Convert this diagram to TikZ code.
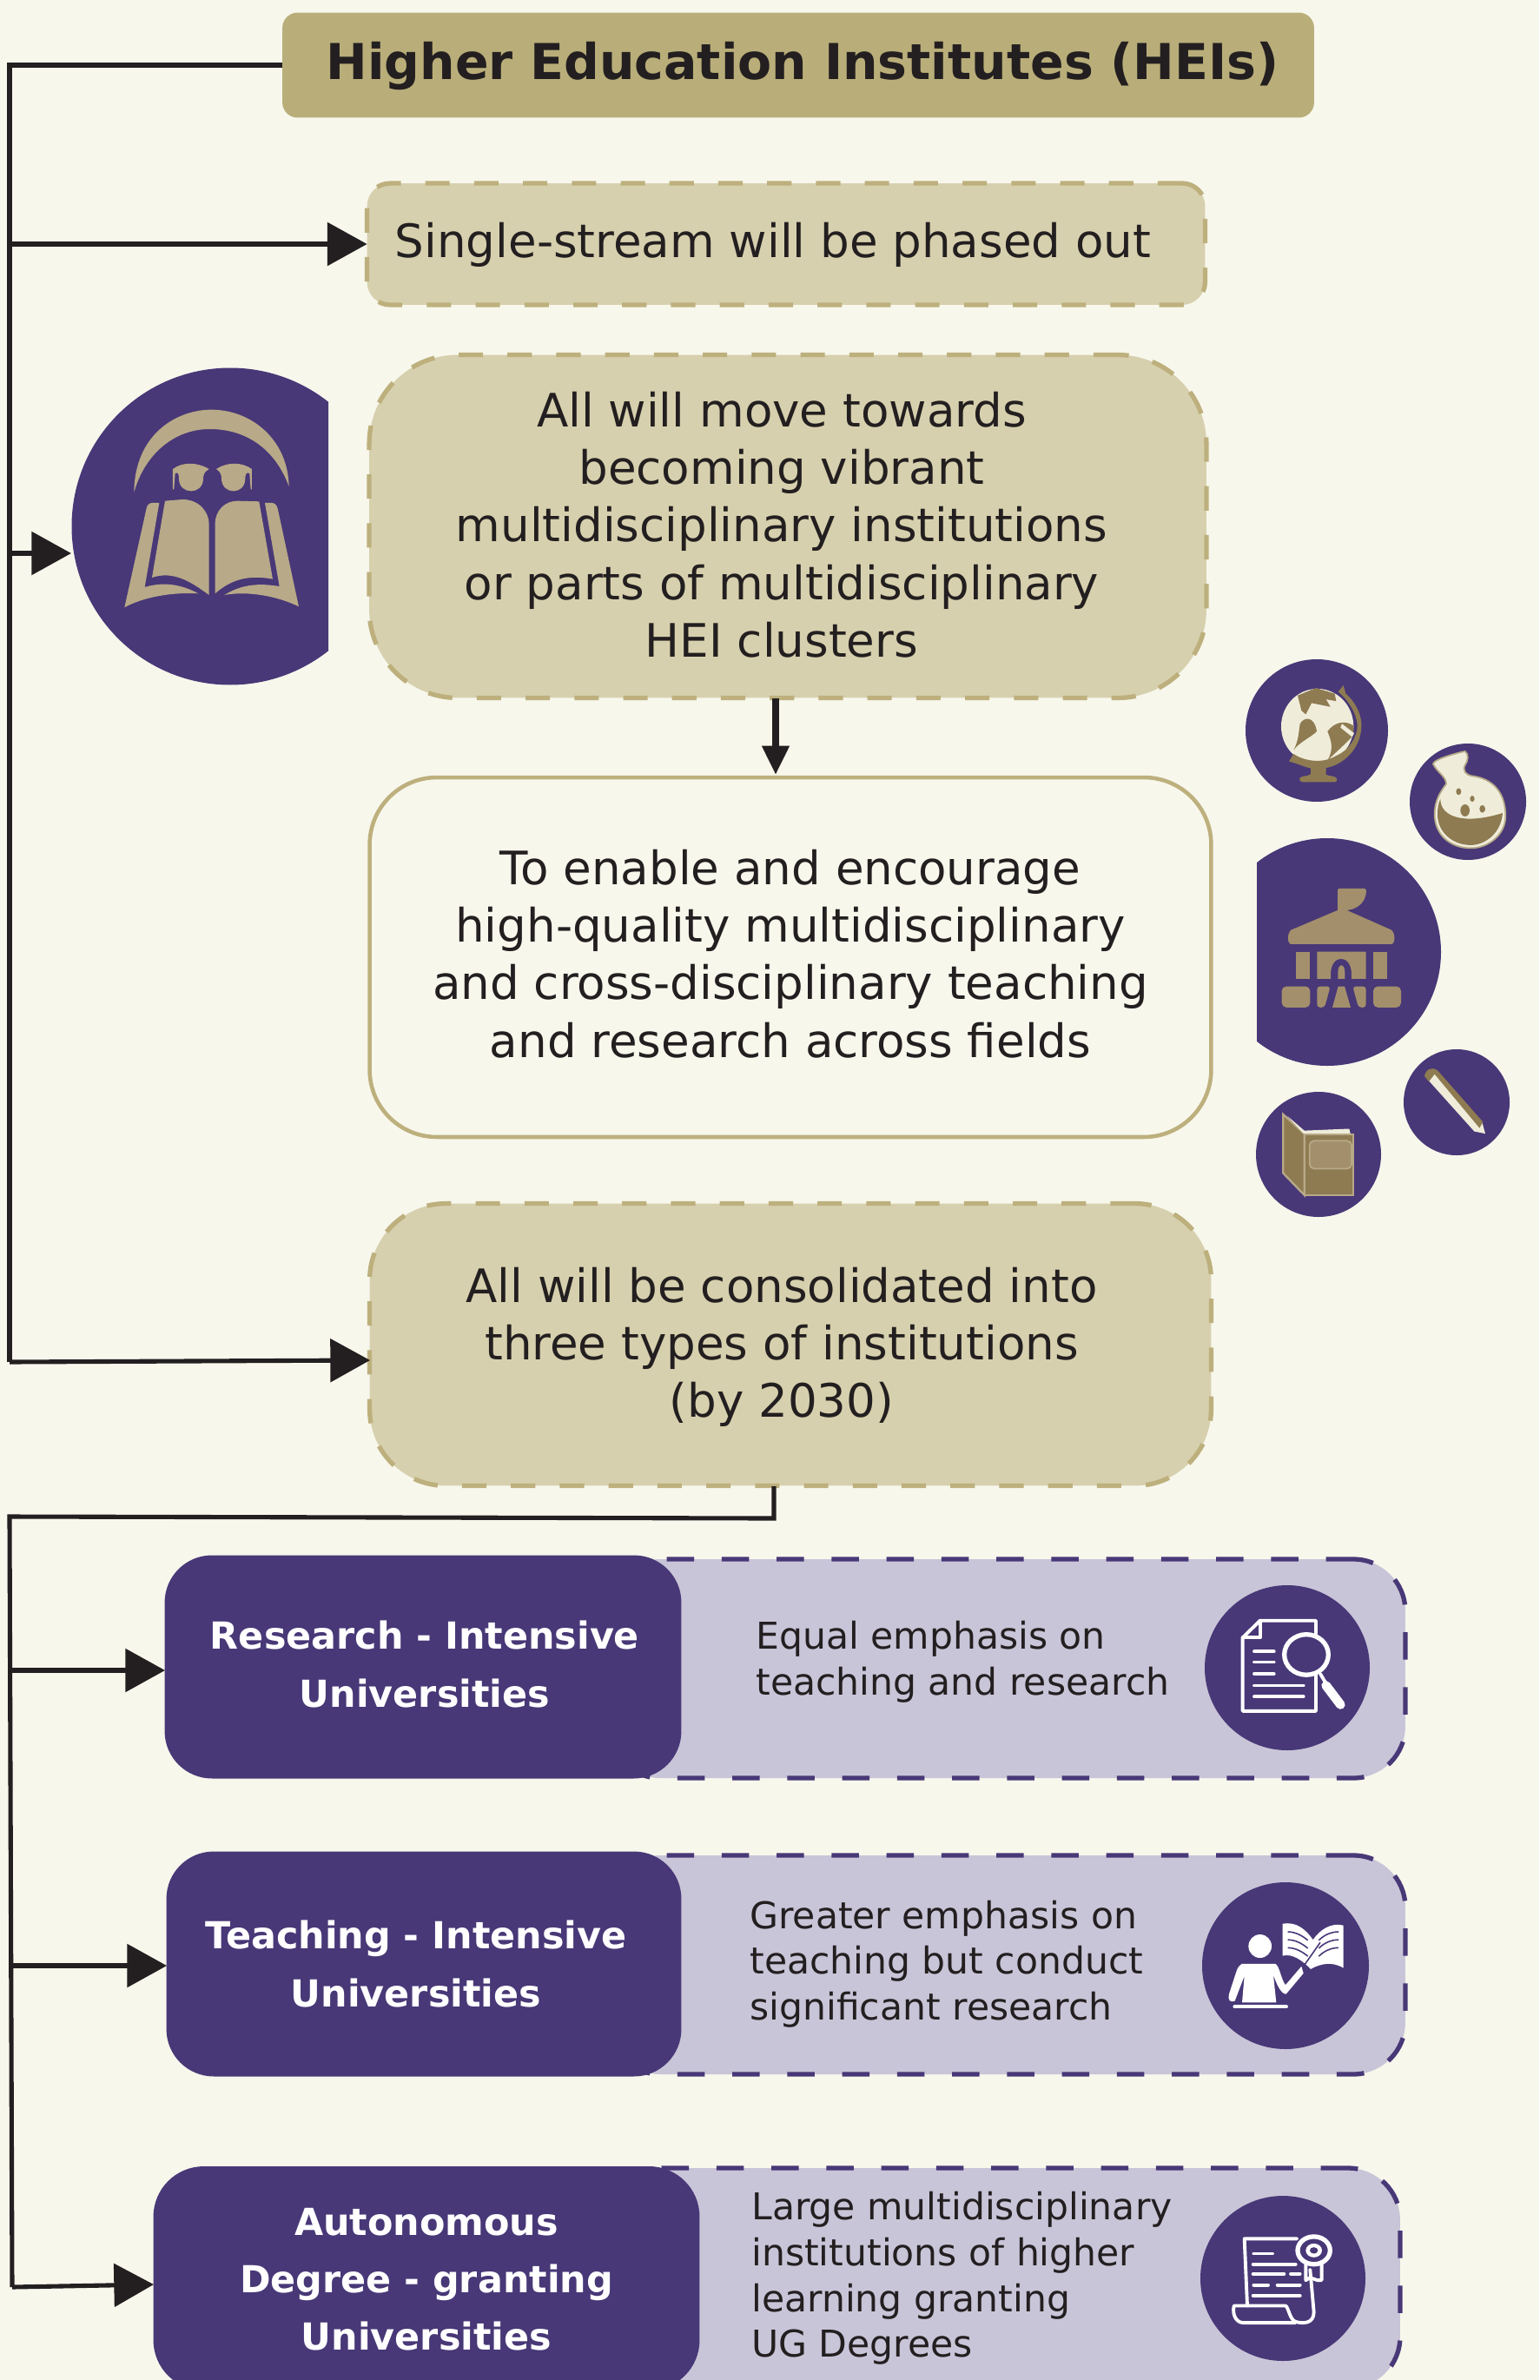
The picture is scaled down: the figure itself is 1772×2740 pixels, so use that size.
\documentclass[tikz,border=0pt]{standalone}
\usepackage{fontspec}
\setmainfont{DejaVu Sans}
\usetikzlibrary{arrows.meta}
\definecolor{bgc}{HTML}{F7F7EC}
\definecolor{titlec}{HTML}{B9AE79}
\definecolor{lightc}{HTML}{D7D0AE}
\definecolor{edgec}{HTML}{BDB07D}
\definecolor{purp}{HTML}{483877}
\definecolor{lilac}{HTML}{C9C5D8}
\definecolor{inkc}{HTML}{231F20}
\definecolor{tanc}{HTML}{B8A988}
\definecolor{brownc}{HTML}{8F7B52}
\definecolor{creamc}{HTML}{EFEDDA}
\definecolor{bldc}{HTML}{A38F6C}
\def\U{0.56906pt}
\tikzset{
 panel/.style={inner sep=0pt,outer sep=0pt,rectangle},
 titlebox/.style={panel,fill=titlec,rounded corners=10pt},
 tanbox/.style={panel,fill=lightc,draw=edgec,line width=3pt,dash pattern=on 16pt off 16pt},
 whitebox/.style={panel,fill=bgc,draw=edgec,line width=2.6pt,rounded corners=44pt},
 lilacbox/.style={panel,fill=lilac,draw=purp,line width=3pt,dash pattern=on 18pt off 18pt,rounded corners=34pt},
 purpbox/.style={panel,fill=purp,rounded corners=31pt},
 maintext/.style={inner sep=0pt,text=inkc,align=center,font=\fontsize{30.2}{37.7}\selectfont},
 sidetext/.style={inner sep=0pt,text=inkc,align=left,font=\fontsize{24.2}{30}\selectfont},
 boldtext/.style={inner sep=0pt,text=white,align=center,font=\fontsize{24.4}{37.7}\selectfont\bfseries},
 wire/.style={draw=inkc,line width=2.9pt},
 arr/.style={wire,-{Triangle[length=26pt,width=28pt]}},
 smallarr/.style={wire,line width=4.4pt,-{Triangle[length=19pt,width=17pt]}},
 disc/.style={fill=purp},
 whiteline/.style={draw=white,line width=2.2pt,line cap=round,line join=round},
}
\begin{document}
\begin{tikzpicture}[x=0.02cm,y=-0.02cm]
\useasboundingbox (0,0) rectangle (1772,2740);
\clip (0,0) rectangle (1772,2740);
\fill[bgc] (0,0) rectangle (1772,2740);

% boxes
\node[titlebox,minimum width=1188*\U,minimum height=121*\U] (hei) at (919,75) {};
\node[tanbox,rounded corners=15pt,minimum width=965*\U,minimum height=140*\U] (single) at (905,281) {};
\node[tanbox,rounded corners=58pt,minimum width=964*\U,minimum height=395*\U] (multi) at (907,606) {};
\node[whitebox,minimum width=969*\U,minimum height=414*\U] (enable) at (910,1102) {};
\node[tanbox,rounded corners=50pt,minimum width=969*\U,minimum height=325*\U] (three) at (910,1548) {};

\node[lilacbox,minimum width=918*\U,minimum height=252*\U] (rl) at (1159,1921) {};
\node[purpbox,minimum width=595*\U,minimum height=257*\U] (rp) at (487,1919) {};
\node[lilacbox,minimum width=918*\U,minimum height=252*\U] (tl) at (1159,2262) {};
\node[purpbox,minimum width=593*\U,minimum height=259*\U] (tp) at (488,2261) {};
\node[lilacbox,minimum width=910*\U,minimum height=254*\U] (al) at (1157,2623) {};
\node[purpbox,rounded corners=33pt,minimum width=629*\U,minimum height=258*\U] (ap) at (491,2623) {};

% texts
\node[maintext,font=\fontsize{32.4}{37.7}\selectfont\bfseries] (heiT) at (924,76) {Higher Education Institutes (HEIs)};
\node[maintext] (singleT) at (890,282) {Single-stream will be phased out};
\node[maintext] (multiT) at (900,604) {All will move towards\\becoming vibrant\\multidisciplinary institutions\\or parts of multidisciplinary\\HEI clusters};
\node[maintext] (enableT) at (910,1098) {To enable and encourage\\high-quality multidisciplinary\\and cross-disciplinary teaching\\and research across fields};
\node[maintext] (threeT) at (900,1551) {All will be consolidated into\\three types of institutions\\(by 2030)};
\node[boldtext] (rpT) at (489,1916) {Research - Intensive\\Universities};
\node[boldtext] (tpT) at (479,2261) {Teaching - Intensive\\Universities};
\node[boldtext] (apT) at (491,2624) {Autonomous\\Degree - granting\\Universities};
\node[sidetext,anchor=west] (rlT) at (870,1913) {Equal emphasis on\\teaching and research};
\node[sidetext,anchor=west] (tlT) at (863,2261) {Greater emphasis on\\teaching but conduct\\significant research};
\node[sidetext,anchor=west] (alT) at (865,2623) {Large multidisciplinary\\institutions of higher\\learning granting\\UG Degrees};

% large left disc with book
\begin{scope}
\clip (0,0) rectangle (378,2740);
\fill[disc] (265,606) circle (182.5);
\end{scope}
\begin{scope}[shift={(60,400)},xscale=0.3333,yscale=0.3333,fill=tanc]
\fill (283,500) .. controls (285,300) and (430,215) .. (550,215) .. controls (690,215) and (815,320) .. (818,480) .. controls (770,350) and (670,282) .. (545,282) .. controls (420,282) and (320,370) .. (283,500) -- cycle;
\fill (417,420) .. controls (450,395) and (500,395) .. (542,420) .. controls (525,430) and (522,440) .. (522,455) .. controls (520,510) and (440,510) .. (438,455) .. controls (438,440) and (436,428) .. (425,435) -- (421,490) -- (417,490) -- cycle;
\fill (690,420) .. controls (655,395) and (605,395) .. (567,420) .. controls (582,430) and (585,440) .. (585,455) .. controls (588,510) and (665,510) .. (667,455) .. controls (667,440) and (670,428) .. (682,435) -- (686,490) -- (690,490) -- cycle;
\fill (390,530) -- (450,525) .. controls (510,525) and (542,570) .. (542,610) -- (542,855) .. controls (480,810) and (420,770) .. (345,795) -- cycle;
\fill (715,532) -- (640,530) .. controls (600,530) and (563,560) .. (563,610) -- (563,850) .. controls (620,800) and (680,785) .. (762,800) -- cycle;
\fill (370,537) -- (345,537) .. controls (332,537) and (326,550) .. (325,560) -- (250,898) .. controls (320,860) and (420,845) .. (505,850) .. controls (440,815) and (380,810) .. (320,828) -- cycle;
\fill (735,537) -- (760,537) .. controls (772,537) and (778,550) .. (780,560) -- (852,895) .. controls (780,860) and (680,840) .. (595,855) .. controls (660,815) and (720,815) .. (785,825) -- cycle;
\end{scope}

% right cluster
\fill[disc] (1516,841) circle (82);
\fill[disc] (1690,923) circle (67);
\begin{scope}
\clip (1447,900) rectangle (1772,1300);
\fill[disc] (1528,1096) circle (131);
\end{scope}
\fill[disc] (1677,1269) circle (61);
\fill[disc] (1518,1329) circle (72);

\begin{scope}[shift={(1420,740)},xscale=0.3333,yscale=0.4337]
% globe
\fill[creamc] (290,222) ellipse (125 and 100);
\fill[brownc] (222,140) -- (285,120) -- (350,135) -- (355,155) -- (320,150) -- (335,170) -- (270,160) -- (250,190) -- (235,180) -- cycle;
\fill[brownc] (230,215) .. controls (245,195) and (280,195) .. (288,235) .. controls (270,250) and (225,265) .. (208,285) .. controls (225,260) and (225,240) .. (230,215) -- cycle;
\fill[brownc] (325,235) .. controls (350,210) and (385,205) .. (415,220) -- (415,245) .. controls (385,270) and (355,290) .. (325,312) .. controls (350,280) and (335,255) .. (325,235) -- cycle;
\fill[creamc] (375,215) -- (417,240) -- (410,250) -- (370,225) -- cycle;
\fill[brownc] (362,130) -- (380,113) -- (388,135) .. controls (425,160) and (445,195) .. (442,225) .. controls (438,285) and (375,325) .. (320,332) -- (320,350) .. controls (330,355) and (355,352) .. (358,362) .. controls (358,370) and (350,370) .. (345,370) -- (240,370) .. controls (232,370) and (226,365) .. (230,358) .. controls (240,352) and (260,355) .. (267,348) -- (267,333) .. controls (245,330) and (220,320) .. (192,315) -- (208,295) .. controls (235,310) and (300,325) .. (355,300) .. controls (400,285) and (428,250) .. (428,220) .. controls (428,190) and (395,150) .. (362,130) -- cycle;
% flask
\fill[creamc,draw=brownc!60!creamc,line width=1pt] (690,322) .. controls (690,310) and (760,295) .. (800,288) .. controls (815,295) and (810,315) .. (800,325) .. controls (790,340) and (805,350) .. (820,353) .. controls (900,360) and (940,400) .. (940,460) .. controls (940,510) and (880,545) .. (820,545) .. controls (750,545) and (695,510) .. (695,455) .. controls (695,420) and (715,395) .. (735,375) .. controls (735,355) and (705,345) .. (690,322) -- cycle;
\fill[brownc] (715,415) .. controls (715,460) and (790,485) .. (930,452) .. controls (925,505) and (870,537) .. (820,537) .. controls (760,537) and (705,505) .. (705,455) .. controls (705,440) and (708,425) .. (715,415) -- cycle;
\fill[brownc] (778,395) ellipse (9 and 9);
\fill[brownc] (825,414) ellipse (8 and 8);
\fill[brownc] (860,441) ellipse (10 and 10);
\fill[brownc] (800,445) ellipse (16 and 16);
% building
\fill[bldc] (360,660) .. controls (360,652) and (365,652) .. (370,652) -- (450,652) .. controls (460,652) and (460,660) .. (457,670) .. controls (450,695) and (420,708) .. (392,710) -- (545,762) .. controls (560,770) and (560,800) .. (545,800) -- (200,800) .. controls (185,800) and (185,770) .. (200,762) -- (360,710) -- cycle;
\fill[bldc] (216,820) rectangle (265,892);
\fill[bldc] (482,820) rectangle (530,892);
\fill[bldc] (289,820) -- (458,820) -- (458,892) -- (408,892) -- (408,880) .. controls (408,825) and (336,825) .. (336,880) -- (336,892) -- (289,892) -- cycle;
\fill[bldc] (361,892) -- (361,875) .. controls (361,850) and (385,850) .. (385,875) -- (385,892) -- cycle;
\fill[bldc,rounded corners=3pt] (167,912) rectangle (265,968);
\fill[bldc,rounded corners=3pt] (483,912) rectangle (579,968);
\fill[bldc,rounded corners=2pt] (289,912) -- (335,912) -- (315,968) -- (289,968) -- cycle;
\fill[bldc,rounded corners=2pt] (412,912) -- (458,912) -- (458,968) -- (432,968) -- cycle;
\fill[bldc] (362,912) -- (384,912) -- (405,968) -- (342,968) -- cycle;
% pencil
\fill[creamc] (672,1160) -- (690,1140) -- (860,1275) -- (870,1303) -- (832,1297) -- cycle;
\fill[brownc] (660,1150) .. controls (665,1130) and (690,1125) .. (705,1135) -- (862,1272) -- (850,1288) -- (695,1145) -- (675,1165) -- cycle;
% small book
\fill[brownc,draw=tanc,line width=1.3pt] (172,1252) -- (245,1303) -- (245,1466) -- (172,1408) -- cycle;
\fill[creamc] (185,1255) -- (245,1295) -- (400,1290) -- (405,1305) -- (245,1305) -- cycle;
\fill[brownc,draw=tanc,line width=1.3pt] (245,1305) rectangle (413,1467);
\fill[bldc,draw=tanc,line width=1pt,rounded corners=3pt] (263,1322) rectangle (408,1396);
\end{scope}

% lower icons
\fill[disc] (1482,1920) circle (95);
\fill[disc] (1480,2263) circle (96);
\fill[disc] (1477,2623) circle (95);
\begin{scope}[shift={(1360,1780)},xscale=0.3333,yscale=0.6124]
% document and lens
\draw[whiteline] (465,165) -- (465,140) -- (272,140) -- (212,172) -- (212,310) -- (465,310) -- (465,240);
\draw[whiteline] (272,140) -- (272,172) -- (212,172);
\foreach \yy/\xx in {198/320,218/320,240/320,262/422,283/422}{\draw[whiteline] (252,\yy) -- (\xx,\yy);}
\draw[whiteline,line width=3pt] (432,204) ellipse (76 and 38);
\draw[whiteline] (480,240) -- (500,258);
\draw[whiteline,line width=6pt] (500,262) -- (550,298);
% teacher
\fill[white] (272,752) ellipse (40 and 22);
\fill[white] (210,785) -- (325,785) .. controls (340,790) and (345,815) .. (360,825) -- (415,790) -- (422,803) -- (362,842) .. controls (345,842) and (330,825) .. (318,806) -- (328,858) -- (210,858) -- (218,808) -- (185,855) .. controls (170,858) and (160,855) .. (165,842) -- (190,800) .. controls (195,790) and (205,787) .. (210,785) -- cycle;
\draw[whiteline] (184,866) -- (363,866);
\fill[white] (350,710) .. controls (395,705) and (430,720) .. (455,740) .. controls (480,720) and (520,707) .. (560,713) -- (560,793) .. controls (520,780) and (480,785) .. (447,795) .. controls (420,780) and (385,765) .. (350,770) -- cycle;
\foreach \yy in {725,740,755}{\draw[purp,line width=0.9pt] (368,\yy) .. controls (395,\yy) and (420,\yy+8) .. (437,\yy+16);\draw[purp,line width=0.9pt] (475,\yy+16) .. controls (495,\yy+5) and (520,\yy) .. (543,\yy);}
\draw[purp,line width=0.9pt] (422,790) -- (480,745);
% diploma
\draw[whiteline] (400,1302) -- (218,1302) -- (228,1428);
\draw[whiteline] (445,1360) -- (458,1440) .. controls (458,1462) and (420,1462) .. (395,1458) .. controls (375,1455) and (370,1430) .. (360,1428) -- (182,1428) .. controls (175,1445) and (190,1460) .. (215,1460) -- (395,1460);
\draw[whiteline] (250,1330) -- (315,1330);
\draw[whiteline] (248,1350) -- (395,1350);
\draw[whiteline] (248,1368) -- (355,1368);\draw[whiteline] (378,1368) -- (410,1368);
\draw[whiteline] (250,1389) -- (300,1389);\draw[whiteline] (332,1389) -- (410,1389);
\draw[whiteline] (248,1409) -- (410,1409);
\draw[whiteline,line width=3pt] (458,1324) ellipse (56 and 26);
\fill[white] (458,1324) ellipse (28 and 13);
\fill[purp] (458,1324) ellipse (14 and 6);
\draw[whiteline] (430,1350) -- (430,1380) -- (445,1375) -- (470,1380) -- (485,1380) -- (485,1345);
\end{scope}

% connectors
\coordinate (busTop) at (11,75);
\coordinate (busSingle) at (11,281);
\coordinate (busBook) at (11,637);
\coordinate (bookTip) at (82,637);
\coordinate (busThree) at (11,1568);
\coordinate (threeTip) at (426,1566);
\coordinate (threeDrop) at (891,1711);
\coordinate (multiDrop) at (893,804);
\coordinate (enableTop) at (893,892);
\coordinate (drop2) at (891,1748);
\coordinate (bus2Top) at (11,1746);
\coordinate (bus2R) at (12,1923);
\coordinate (rTip) at (190,1923);
\coordinate (bus2T) at (13,2263);
\coordinate (tTip) at (192,2263);
\coordinate (bus2A) at (14,2633);
\coordinate (aTip) at (177,2630);
\draw[wire,line join=miter] (hei.west) -- (busTop) -- (busThree);
\draw[arr] (busSingle) -- (single.west);
\draw[arr] (busBook) -- (bookTip);
\draw[arr] (busThree) -- (threeTip);
\draw[smallarr] (multiDrop) -- (enableTop);
\draw[wire,line join=miter] (threeDrop) -- (drop2) -- (bus2Top) -- (bus2A);
\draw[arr] (bus2R) -- (rTip);
\draw[arr] (bus2T) -- (tTip);
\draw[arr] (bus2A) -- (aTip);
\end{tikzpicture}
\end{document}
